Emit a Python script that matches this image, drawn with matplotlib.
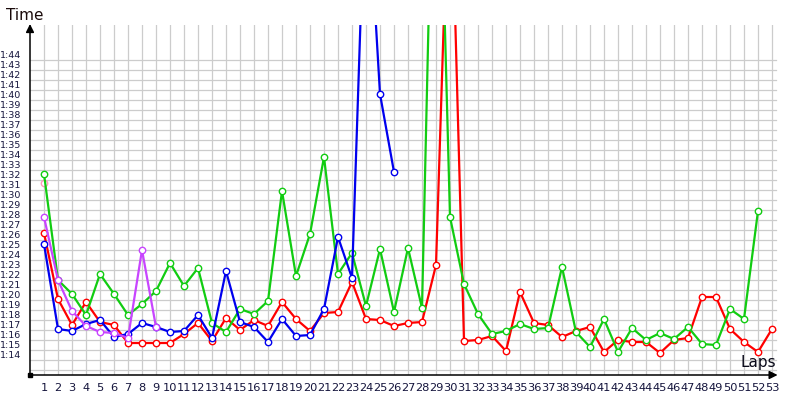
import matplotlib
matplotlib.use('Agg')
import matplotlib.pyplot as plt

# lap times in seconds (1:17 -> 77)
blue_times = [85.1, 76.6, 76.4, 77.1, 77.5, 75.8, 76.1, 77.2, 76.8, 76.3,
              76.4, 78.0, 75.7, 82.4, 77.3, 76.8, 75.3, 77.6, 75.9, 76.0,
              78.6, 85.8, 81.7, 124.0, 100.1, 92.3]
red_times = [86.2, 79.6, 77.0, 79.3, 77.3, 77.0, 75.2, 75.2, 75.2, 75.2,
             76.1, 77.2, 75.4, 77.7, 76.5, 77.5, 76.9, 79.3, 77.6, 76.4,
             78.2, 78.3, 81.3, 77.6, 77.5, 76.9, 77.2, 77.3, 83.0, 126.8,
             75.4, 75.5, 75.9, 74.4, 80.3, 77.2, 77.0, 75.8, 76.4, 76.8,
             74.3, 75.5, 75.3, 75.3, 74.2, 75.5, 75.7, 79.8, 79.8, 76.6,
             75.3, 74.3, 76.6]
green_times = [92.1, 81.5, 80.1, 78.0, 82.1, 80.1, 78.0, 79.1, 80.4, 83.2,
               80.9, 82.7, 77.2, 76.3, 78.6, 78.1, 79.4, 90.4, 81.9, 86.1,
               93.8, 82.1, 84.2, 78.9, 84.6, 78.3, 84.7, 78.7, 140.0, 87.8,
               81.1, 78.1, 76.1, 76.4, 77.1, 76.6, 76.7, 82.8, 76.3, 74.8,
               77.6, 74.3, 76.7, 75.5, 76.2, 75.6, 76.8, 75.1, 75.0, 78.6,
               77.6, 88.4]
violet_times = [87.8, 81.5, 78.4, 76.9, 76.3, 76.2, 75.7, 84.5, 76.8]
pink_times = [91.2]

n_laps = 53
time_ticks = list(range(74, 105))
time_labels = ['1:%02d' % (t - 60) for t in time_ticks]
lap_labels = [str(i) for i in range(1, n_laps + 1)]

txt_color = '#14143c'

fig = plt.figure(figsize=(8, 4), dpi=100)
ax = fig.add_axes([30 / 800, 25 / 400, 770 / 800, 350 / 400])
ax.set_xlim(0, 55)
ax.set_ylim(72, 107)
for s in ax.spines.values():
    s.set_visible(False)

# grid: horizontal lines between the labels, vertical at every lap
for y in range(72, 104):
    ax.plot([0, 53.3], [y + 0.5, y + 0.5], color='#cccccc', lw=0.9, zorder=1)
for lap in range(1, n_laps + 1):
    ax.plot([lap, lap], [72, 107], color='#cccccc', lw=0.9, zorder=1)

series = [
    (pink_times, '#ff99bb', 2),
    (red_times, '#ff0000', 3),
    (green_times, '#11cc11', 4),
    (blue_times, '#0000ee', 5),
    (violet_times, '#c845ff', 6),
]
for times, col, z in series:
    laps = list(range(1, len(times) + 1))
    ax.plot(laps, times, color=col, lw=1.6, marker='o', markersize=4.6,
            markerfacecolor='white', markeredgecolor=col, markeredgewidth=1.0,
            zorder=z)

# axes with arrows
ax.annotate('', xy=(53.4, 72), xytext=(0, 72), annotation_clip=False,
            arrowprops=dict(arrowstyle='-|>', color='black', lw=1.1,
                            mutation_scale=12, shrinkA=0, shrinkB=0))
ax.annotate('', xy=(0, 107.1), xytext=(0, 72), annotation_clip=False,
            arrowprops=dict(arrowstyle='-|>', color='black', lw=1.1,
                            mutation_scale=12, shrinkA=0, shrinkB=0))
ax.plot([0], [72], marker='s', color='black', markersize=3, clip_on=False, zorder=10)

ax.set_yticks(time_ticks)
ax.set_yticklabels(time_labels)
ax.set_xticks(range(1, n_laps + 1))
ax.set_xticklabels(lap_labels)
ax.tick_params(axis='y', length=0, pad=6, labelsize=6.8, labelcolor=txt_color)
ax.tick_params(axis='x', length=0, pad=6, labelsize=8.2, labelcolor=txt_color)

fig.text(25 / 800, 1 - 15 / 400, 'Time', fontsize=11, color='#1a0a0a',
         ha='center', va='center')
fig.text(758 / 800, 1 - 363 / 400, 'Laps', fontsize=11, color='#0a0a1a',
         ha='center', va='center')

fig.savefig('out.png', dpi=100)
